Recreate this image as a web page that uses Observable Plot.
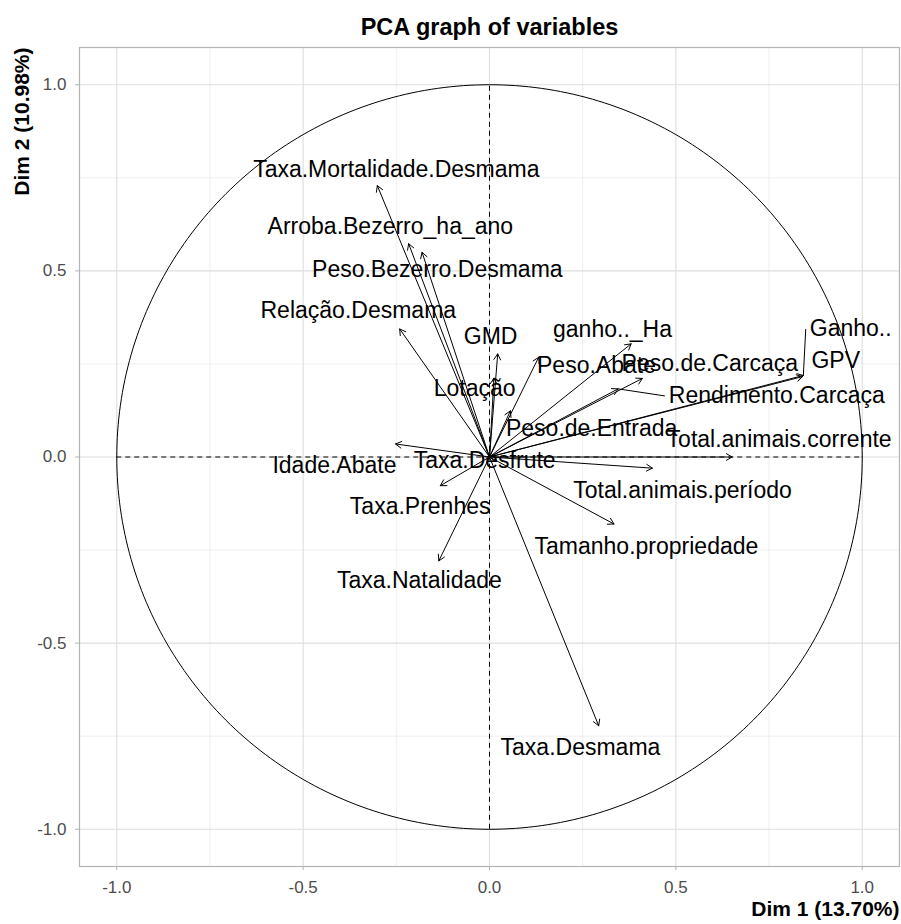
<!DOCTYPE html>
<html>
<head>
<meta charset="utf-8">
<script src="https://cdn.jsdelivr.net/npm/d3@7"></script>
<script src="https://cdn.jsdelivr.net/npm/@observablehq/plot@0.6"></script>
<style>
  html, body { margin: 0; padding: 0; background: #ffffff; }
  #chart { width: 901px; height: 924px; }
</style>
</head>
<body>
<div id="chart"></div>
<script>
// PCA variable loadings on the first two dimensions
const variables = [
  "Taxa.Mortalidade.Desmama", "Arroba.Bezerro_ha_ano", "Peso.Bezerro.Desmama",
  "Relação.Desmama", "GMD", "ganho.._Ha", "Peso.Abate", "Peso.de.Carcaça",
  "Ganho..", "GPV", "Rendimento.Carcaça", "Lotação", "Peso.de.Entrada",
  "Total.animais.corrente", "Idade.Abate", "Taxa.Desfrute",
  "Total.animais.período", "Taxa.Prenhes", "Tamanho.propriedade",
  "Taxa.Natalidade", "Taxa.Desmama"
];
const dim1 = [
  -0.301, -0.217, -0.181,
  -0.241, 0.022, 0.380, 0.132, 0.410,
  0.842, 0.840, 0.345, 0.012, 0.056,
  0.651, -0.252, 0.015,
  0.437, -0.132, 0.334,
  -0.136, 0.293
];
const dim2 = [
  0.729, 0.573, 0.550,
  0.344, 0.277, 0.304, 0.268, 0.211,
  0.219, 0.216, 0.183, 0.212, 0.124,
  0.000, 0.035, -0.012,
  -0.030, -0.077, -0.180,
  -0.279, -0.722
];
// repelled label anchors, in the same Dim 1 / Dim 2 units
const labelDim1 = [
  -0.250, -0.266, -0.140,
  -0.352, 0.003, 0.330, 0.287, 0.591,
  0.969, 0.929, 0.771, -0.040, 0.274,
  0.777, -0.416, -0.013,
  0.518, -0.186, 0.421,
  -0.188, 0.244
];
const labelDim2 = [
  0.772, 0.618, 0.503,
  0.392, 0.323, 0.341, 0.245, 0.250,
  0.344, 0.258, 0.164, 0.183, 0.075,
  0.046, -0.022, -0.011,
  -0.089, -0.134, -0.242,
  -0.331, -0.782
];
const majorTicks = [-1, -0.5, 0, 0.5, 1];
const minorTicks = [-0.75, -0.25, 0.25, 0.75];
const titleText = "PCA graph of variables";
const xTitle = "Dim 1 (13.70%)";
const yTitle = "Dim 2 (10.98%)";

const rows = variables.map((name, i) => ({
  name, x: dim1[i], y: dim2[i], lx: labelDim1[i], ly: labelDim2[i]
}));

// unit correlation circle
const circle = d3.range(0, 361).map(a => ({
  x: Math.cos(a * Math.PI / 180), y: Math.sin(a * Math.PI / 180)
}));

const FONT = "Liberation Sans, Arial, Helvetica, sans-serif";
const LABEL_SIZE = 23;
const fmt = d => d.toFixed(1);

const layout = {
  width: 901, height: 924,
  marginLeft: 79, marginRight: 2, marginTop: 47, marginBottom: 58,
  x: { domain: [-1.1, 1.1] },
  y: { domain: [-1.1, 1.1] }
};

function baseMarks() {
  return [
    Plot.gridX(minorTicks, { stroke: "#ebebeb", strokeOpacity: 1, strokeWidth: 0.8 }),
    Plot.gridY(minorTicks, { stroke: "#ebebeb", strokeOpacity: 1, strokeWidth: 0.8 }),
    Plot.gridX(majorTicks, { stroke: "#dedede", strokeOpacity: 1, strokeWidth: 1.1 }),
    Plot.gridY(majorTicks, { stroke: "#dedede", strokeOpacity: 1, strokeWidth: 1.1 }),
    Plot.frame({ stroke: "#b3b3b3", strokeWidth: 1.2 }),
    Plot.axisX(majorTicks, {
      tickFormat: fmt, tickSize: 4, tickPadding: 10, fontSize: 17,
      stroke: "#b3b3b3", fill: "#4d4d4d", label: null
    }),
    Plot.axisY(majorTicks, {
      tickFormat: fmt, tickSize: 4, tickPadding: 9, fontSize: 17,
      stroke: "#b3b3b3", fill: "#4d4d4d", label: null
    })
  ];
}

// first pass: read the scales to place leader segments for far-off labels
const probe = Plot.plot({ ...layout, marks: baseMarks() });
const sx = probe.scale("x"), sy = probe.scale("y");
const ctx = document.createElement("canvas").getContext("2d");
ctx.font = `${LABEL_SIZE}px ${FONT}`;
const leaders = [];
for (const r of rows) {
  const px = sx.apply(r.x), py = sy.apply(r.y);
  const cx = sx.apply(r.lx), cy = sy.apply(r.ly);
  const hw = ctx.measureText(r.name).width / 2, hh = LABEL_SIZE * 0.5;
  let bx = Math.max(cx - hw, Math.min(px, cx + hw));
  let by = Math.max(cy - hh, Math.min(py, cy + hh));
  if (Math.hypot(bx - px, by - py) > 14) {
    if (px < cx - hw) { bx = cx - hw - 4; by = cy; }
    leaders.push({ x1: r.x, y1: r.y, x2: sx.invert(bx), y2: sy.invert(by) });
  }
}

const chart = Plot.plot({
  ...layout,
  style: { fontFamily: FONT, background: "#ffffff", overflow: "visible" },
  marks: [
    ...baseMarks(),
    Plot.line(circle, { x: "x", y: "y", stroke: "#000", strokeWidth: 1 }),
    Plot.ruleY([0], { x1: -1, x2: 1, stroke: "#000", strokeWidth: 1, strokeDasharray: "5,4" }),
    Plot.ruleX([0], { y1: -1, y2: 1, stroke: "#000", strokeWidth: 1, strokeDasharray: "5,4" }),
    Plot.link(leaders, { x1: "x1", y1: "y1", x2: "x2", y2: "y2", stroke: "#000", strokeWidth: 1 }),
    Plot.arrow(rows, {
      x1: () => 0, y1: () => 0, x2: "x", y2: "y",
      stroke: "#000", strokeWidth: 1, headLength: 10, headAngle: 60
    }),
    Plot.text(rows, {
      x: "lx", y: "ly", text: "name", fontSize: LABEL_SIZE, fill: "#000",
      textAnchor: "middle", lineAnchor: "middle"
    }),
    Plot.text([titleText], {
      frameAnchor: "top", dy: -20, text: d => d, fontSize: 23.5, fontWeight: "bold",
      fill: "#000", lineAnchor: "middle"
    }),
    Plot.text([xTitle], {
      frameAnchor: "bottom-right", dy: 43, text: d => d, fontSize: 21, fontWeight: "bold",
      fill: "#000", textAnchor: "end", lineAnchor: "middle"
    }),
    Plot.text([yTitle], {
      frameAnchor: "top-left", dx: -57, text: d => d, fontSize: 21, fontWeight: "bold",
      fill: "#000", textAnchor: "end", lineAnchor: "middle", rotate: -90
    })
  ]
});
document.getElementById("chart").append(chart);
</script>
</body>
</html>
